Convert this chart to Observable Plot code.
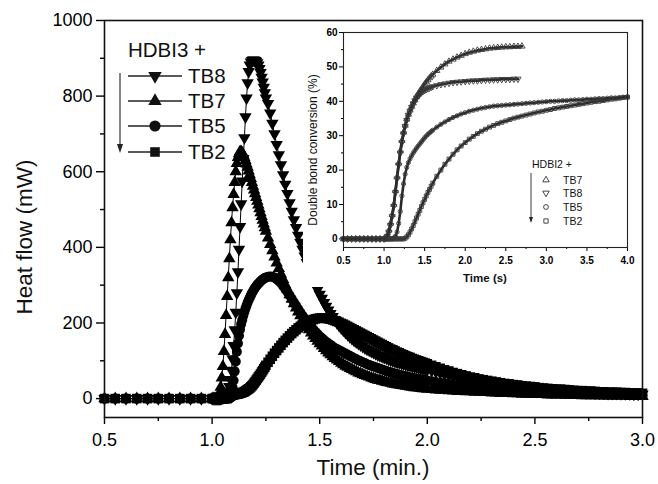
<!DOCTYPE html>
<html><head><meta charset="utf-8">
<script src="https://cdn.jsdelivr.net/npm/d3@7"></script>
<script src="https://cdn.jsdelivr.net/npm/@observablehq/plot@0.6"></script>
<style>
body{margin:0;background:#fff;}
#wrap{position:relative;width:658px;height:484px;background:#fff;}
#wrap svg{position:absolute;overflow:visible;}
</style></head><body><div id="wrap"></div>
<script>
const FONT = "'Liberation Sans', Arial, Helvetica, sans-serif";

// ===== Main chart: Heat flow (mW) vs Time (min.) =====
const MAIN_SERIES = ["TB8", "TB7", "TB5", "TB2"];
const T_BASE = [0.50,0.55,0.60,0.65,0.70,0.75,0.80,0.85,0.90,0.95];
const T_RISE = [1.000,1.005,1.010,1.015,1.020,1.025,1.030,1.035,1.040,1.045,
  1.050,1.055,1.060,1.065,1.070,1.075,1.080,1.085,1.090,1.095,
  1.100,1.105,1.110,1.115,1.120,1.125,1.130,1.135,1.140,1.145,
  1.150,1.155,1.160,1.165,1.170,1.175,1.180,1.185,1.190,1.195,
  1.200,1.205,1.210,1.215,1.220,1.225,1.230,1.235,1.240,1.245,1.250];
const T_MID = [1.26,1.27,1.28,1.29,1.30,1.31,1.32,1.33,1.34,1.35,
  1.36,1.37,1.38,1.39,1.40,1.41,1.42,1.43,1.44,1.45,
  1.46,1.47,1.48,1.49,1.50,1.51,1.52,1.53,1.54,1.55,
  1.56,1.57,1.58,1.59,1.60,1.61,1.62,1.63,1.64,1.65,
  1.66,1.67,1.68,1.69,1.70,1.71,1.72,1.73,1.74,1.75,
  1.76,1.77,1.78,1.79,1.80,1.81,1.82,1.83,1.84,1.85,
  1.86,1.87,1.88,1.89,1.90,1.91,1.92,1.93,1.94,1.95,
  1.96,1.97,1.98,1.99,2.00];
const T_TAIL = [2.02,2.04,2.06,2.08,2.10,2.12,2.14,2.16,2.18,2.20,
  2.22,2.24,2.26,2.28,2.30,2.32,2.34,2.36,2.38,2.40,
  2.42,2.44,2.46,2.48,2.50,2.52,2.54,2.56,2.58,2.60,
  2.62,2.64,2.66,2.68,2.70,2.72,2.74,2.76,2.78,2.80,
  2.82,2.84,2.86,2.88,2.90,2.92,2.94,2.96,2.98,3.00];
const HF_BASE = [0,0,0,0,0,0,0,0,0,0];

const TB8_RISE = [0,0,0,0,0,0,0,0,0,1, 2,3,5,8,13,20,32,50,75,105,
  140,182,228,280,335,395,455,515,575,635, 690,745,795,835,865,882,890,894,895,895,
  894,892,888,882,873,862,850,837,823,809, 795];
const TB8_MID = [780,755,728,700,672,645,618,592,567,542,
  518,495,473,452,432,413,395,377,360,344, 329,315,301,288,276,265,254,244,234,225,
  217,209,201,194,187,181,175,169,164,159, 154,150,146,142,138,134,131,128,125,122,
  119,116,114,111,109,107,104,102,100,98, 96,95,93,91,90,88,87,85,84,83, 81,80,79,78,77];
const TB8_TAIL = [74,71,68,65,62,59,57,54,52,50, 48,46,44,42,40,38,36,35,33,32,
  31,29,28,27,26,25,24,23,22,21, 21,20,19,18,18,17,17,16,16,15, 15,14,14,14,13,13,13,12,12,12];

const TB7_RISE = [0,0,0,0,0,2,6,15,30,55, 85,125,170,220,270,320,370,420,465,505,
  540,572,600,622,638,648,653,653,650,645, 638,630,621,612,602,592,582,572,562,552,
  542,532,522,512,502,492,482,472,462,452, 443];
const TB7_MID = [425,408,391,375,359,344,329,315,301,288,
  275,263,251,240,229,219,209,200,191,182, 174,166,159,152,145,139,133,127,121,116,
  111,106,102,98,94,90,86,83,80,77, 74,71,68,66,63,61,59,57,55,53,
  51,49,48,46,45,43,42,41,39,38, 37,36,35,34,33,32,31,30,29,29, 28,27,26,26,25];
const TB7_TAIL = [24,23,22,22,21,20,19,19,18,18, 17,17,16,16,15,15,14,14,14,13,
  13,12,12,12,11,11,11,10,10,10, 10,9,9,9,9,8,8,8,8,8, 7,7,7,7,7,7,6,6,6,6];

const TB5_RISE = [0,0,0,0,0,0,0,0,0,0, 0,0,0,0,2,4,8,13,20,30,
  48,72,98,124,146,166,183,197,208,219, 229,238,246,254,261,267,273,279,284,289,
  293,297,301,304,307,310,313,315,317,319, 320];
const TB5_MID = [322,323,322,320,316,311,305,298,290,282,
  273,264,255,246,237,228,220,212,204,197, 190,183,177,171,165,160,155,150,146,142,
  138,134,131,128,125,122,119,116,113,110, 107,104,101,99,96,94,91,89,87,85,
  83,81,79,77,75,73,71,70,68,66, 65,63,62,60,59,58,56,55,54,53, 52,51,50,49,48];
const TB5_TAIL = [46,44,42,40,38,36,35,33,32,31, 29,28,27,26,25,24,23,22,21,20,
  20,19,18,18,17,17,16,16,15,15, 14,14,13,13,13,12,12,12,11,11, 11,11,10,10,10,10,9,9,9,9];

const TB2_RISE = [0,0,0,0,0,0,0,0,0,0, 0,0,0,0,0,2,4,6,8,9,
  10,11,11,12,12,13,14,15,16,17, 18,20,22,24,26,28,31,34,37,41,
  45,49,53,57,61,65,70,74,79,83, 88];
const TB2_MID = [96,104,112,120,127,134,141,148,154,160,
  166,172,177,182,187,191,195,199,202,205, 207,209,211,212,213,213,213,212,211,210,
  208,206,204,202,199,197,194,191,188,185, 182,179,176,173,170,167,164,161,158,155,
  152,149,146,143,140,137,134,131,129,126, 123,121,118,116,113,111,109,106,104,102, 100,98,96,94,92];
const TB2_TAIL = [88,84,80,76,73,69,66,63,60,57, 55,52,50,48,46,44,42,40,39,37,
  36,34,33,32,31,29,28,27,26,25, 25,24,23,22,21,21,20,20,19,18, 18,17,17,17,16,16,15,15,15,14];

const X_TICKS = [0.5, 1.0, 1.5, 2.0, 2.5, 3.0];
const X_MINOR = [0.75, 1.25, 1.75, 2.25, 2.75];
const Y_TICKS = [0, 200, 400, 600, 800, 1000];
const Y_MINOR = [100, 300, 500, 700, 900];

// ===== Inset: Double bond conversion (%) vs Time (s) =====
const INSET_SERIES = ["TB7", "TB8", "TB5", "TB2"];
const IT_BASE = [0.50,0.55,0.60,0.65,0.70,0.75,0.80,0.85,0.90,0.95,1.00];
const IT_RISE = [1.02,1.04,1.06,1.08,1.10,1.12,1.14,1.16,1.18,1.20,
  1.22,1.24,1.26,1.28,1.30,1.32,1.34,1.36,1.38,1.40,
  1.42,1.44,1.46,1.48,1.50,1.52,1.54,1.56,1.58,1.60];
const IT_MID = [1.65,1.70,1.75,1.80,1.85,1.90,1.95,2.00,2.05,2.10,
  2.15,2.20,2.25,2.30,2.35,2.40,2.45,2.50,2.55,2.60,
  2.65,2.70,2.75,2.80,2.85,2.90,2.95,3.00,3.05,3.10,
  3.15,3.20,3.25,3.30,3.35,3.40,3.45,3.50,3.55,3.60,
  3.65,3.70,3.75,3.80,3.85,3.90,3.95,4.00];
const DBC_BASE = [0,0,0,0,0,0,0,0,0,0,0];

const I_TB7_RISE = [0.3,1,2.5,4.5,7,10,14,18,22,25.5, 28.6,31,33,34.8,36.2,37.4,38.5,39.5,40.4,41.3,
  42.1,42.9,43.6,44.3,45,45.6,46.2,46.8,47.3,47.8];
const I_TB7_MID = [48.9,49.9,50.8,51.6,52.2,52.8,53.3,53.8,54.2,54.5,
  54.8,55.0,55.2,55.4,55.5,55.6,55.7,55.8,55.8,55.9, 55.9,56.0,
  null,null,null,null,null,null,null,null,null,null,null,null,null,
  null,null,null,null,null,null,null,null,null,null,null,null,null];
const I_TB8_RISE = [0.2,0.8,2,4,6.5,9.5,13.5,17.5,21.5,25, 28,30.6,32.7,34.5,36,37.2,38.3,39.3,40.2,41,
  41.6,42.1,42.5,42.9,43.2,43.5,43.7,43.9,44.1,44.3];
const I_TB8_MID = [44.6,44.9,45.1,45.3,45.5,45.6,45.7,45.8,45.9,46.0,
  46.0,46.1,46.2,46.2,46.3,46.3,46.4,46.4,46.4,46.5, 46.5,
  null,null,null,null,null,null,null,null,null,null,null,null,null,null,
  null,null,null,null,null,null,null,null,null,null,null,null,null];
const I_TB5_RISE = [0,0,0,0,0,0.3,0.8,2,4.5,8, 12.5,16,18.8,20.8,22.2,23.3,24.2,25,25.7,26.4,
  27,27.6,28.2,28.8,29.4,29.9,30.4,30.8,31.2,31.6];
const I_TB5_MID = [32.5,33.3,34.0,34.7,35.3,35.8,36.3,36.7,37.1,37.4,
  37.7,38.0,38.2,38.4,38.6,38.7,38.8,38.9,39.0,39.1, 39.2,39.3,39.4,39.5,39.6,39.7,39.8,39.9,40.0,40.0,
  40.1,40.2,40.2,40.3,40.4,40.4,40.5,40.6,40.6,40.7, 40.8,40.8,40.9,41.0,41.0,41.1,41.2,41.3];
const I_TB2_RISE = [0,0,0,0,0,0,0,0,0,0,0,0, 0.2,0.6,1.2,2,2.9,3.9,5,6.1,
  7.2,8.3,9.4,10.5,11.5,12.5,13.5,14.4,15.3,16.2];
const I_TB2_MID = [18.2,20.0,21.7,23.2,24.6,25.9,27.0,28.0,29.0,29.8,
  30.6,31.3,31.9,32.5,33.0,33.5,33.9,34.3,34.7,35.1, 35.4,35.7,36.0,36.3,36.6,36.9,37.1,37.4,37.6,37.9,
  38.1,38.3,38.5,38.7,38.9,39.1,39.3,39.5,39.7,39.9, 40.0,40.2,40.4,40.6,40.7,40.9,41.1,41.2];

const IX_TICKS = [0.5, 1.0, 1.5, 2.0, 2.5, 3.0, 3.5, 4.0];
const IX_MINOR = [0.75, 1.25, 1.75, 2.25, 2.75, 3.25, 3.75];
const IY_TICKS = [0, 10, 20, 30, 40, 50, 60];
const IY_MINOR = [5, 15, 25, 35, 45, 55];

// ---------- helpers ----------
const triangleDown = {
  draw(context, size) {
    const y = -Math.sqrt(size / (Math.sqrt(3) * 3));
    context.moveTo(0, -y * 2);
    context.lineTo(-Math.sqrt(3) * y, y);
    context.lineTo(Math.sqrt(3) * y, y);
    context.closePath();
  }
};
function rows(name, times, values) {
  return times.map((t, i) => ({name, t, v: values[i]})).filter(d => d.v != null);
}
function d3sym(s) {
  return s === "triangle" ? d3.symbolTriangle : s === "circle" ? d3.symbolCircle : s === "square" ? d3.symbolSquare : s;
}
const mainTimes = T_BASE.concat(T_RISE, T_MID, T_TAIL);
const mainData = {
  TB8: rows("TB8", mainTimes, HF_BASE.concat(TB8_RISE, TB8_MID, TB8_TAIL)),
  TB7: rows("TB7", mainTimes, HF_BASE.concat(TB7_RISE, TB7_MID, TB7_TAIL)),
  TB5: rows("TB5", mainTimes, HF_BASE.concat(TB5_RISE, TB5_MID, TB5_TAIL)),
  TB2: rows("TB2", mainTimes, HF_BASE.concat(TB2_RISE, TB2_MID, TB2_TAIL))
};
const mainSym = {TB8: {s: triangleDown, r: 4.6}, TB7: {s: "triangle", r: 4.6}, TB5: {s: "circle", r: 5}, TB2: {s: "square", r: 5.4}};

const insetTimes = IT_BASE.concat(IT_RISE, IT_MID);
const insetData = {
  TB7: rows("TB7", insetTimes, DBC_BASE.concat(I_TB7_RISE, I_TB7_MID)),
  TB8: rows("TB8", insetTimes, DBC_BASE.concat(I_TB8_RISE, I_TB8_MID)),
  TB5: rows("TB5", insetTimes, DBC_BASE.concat(I_TB5_RISE, I_TB5_MID)),
  TB2: rows("TB2", insetTimes, DBC_BASE.concat(I_TB2_RISE, I_TB2_MID))
};
const insetSym = {TB7: {s: "triangle", r: 2.3}, TB8: {s: triangleDown, r: 2.3}, TB5: {s: "circle", r: 2.1}, TB2: {s: "square", r: 2.2}};

// ---------- main plot ----------
const seriesMarks = [];
for (const k of ["TB2", "TB5", "TB7", "TB8"]) {
  seriesMarks.push(Plot.line(mainData[k], {x: "t", y: "v", stroke: "black", strokeWidth: 1}));
  seriesMarks.push(Plot.dot(mainData[k], {x: "t", y: "v", symbol: mainSym[k].s, r: mainSym[k].r, fill: "black", stroke: "none"}));
}
const main = Plot.plot({
  width: 658, height: 484,
  marginLeft: 104, marginRight: 16, marginTop: 20, marginBottom: 67,
  x: {domain: [0.5, 3.0], label: null},
  y: {domain: [-50, 1000], label: null},
  style: {fontFamily: FONT, background: "white", color: "black"},
  marks: [
    Plot.axisY({ticks: Y_TICKS, tickSize: 8, tickPadding: 4, fontSize: 18, label: null, tickFormat: d => String(d), strokeWidth: 1.4}),
    Plot.axisY({ticks: Y_MINOR, tickSize: 4, tickFormat: () => "", label: null, strokeWidth: 1.4}),
    Plot.axisX({ticks: X_TICKS, tickSize: 7, tickPadding: 9, fontSize: 18, label: null, tickFormat: d => d.toFixed(1), strokeWidth: 1.4}),
    Plot.axisX({ticks: X_MINOR, tickSize: 4, tickFormat: () => "", label: null, strokeWidth: 1.4}),
    ...seriesMarks,
    Plot.frame({stroke: "#111", strokeWidth: 1.6})
  ]
});
main.style.left = "0px"; main.style.top = "0px";
const wrap = document.getElementById("wrap");
wrap.appendChild(main);

const ms = d3.select(main);
ms.append("text").attr("transform", "translate(32,237) rotate(-90)").attr("text-anchor", "middle")
  .attr("font-family", FONT).attr("font-size", 22.5).attr("fill", "#111").text("Heat flow (mW)");
ms.append("text").attr("x", 373).attr("y", 475).attr("text-anchor", "middle")
  .attr("font-family", FONT).attr("font-size", 22.5).attr("fill", "#111").text("Time (min.)");

// main legend
const lg = ms.append("g").attr("font-family", FONT).attr("fill", "#111").attr("text-anchor", "start");
lg.append("text").attr("x", 128).attr("y", 57).attr("font-size", 20.5).text("HDBI3 +");
const legRows = [76, 101, 126, 152];
MAIN_SERIES.forEach((k, i) => {
  const y = legRows[i];
  lg.append("line").attr("x1", 128).attr("x2", 182).attr("y1", y).attr("y2", y).attr("stroke", "#222").attr("stroke-width", 1.3);
  const rr = k === "TB5" ? 5.6 : k === "TB2" ? 5.4 : 5;
  lg.append("path").attr("transform", `translate(155,${y})`).attr("d", d3.symbol(d3sym(mainSym[k].s), Math.PI * rr * rr)()).attr("fill", "#111");
  lg.append("text").attr("x", 188).attr("y", y + 7).attr("font-size", 20.5).text(k);
});
lg.append("line").attr("x1", 120).attr("x2", 120).attr("y1", 73).attr("y2", 150).attr("stroke", "#222").attr("stroke-width", 1.1);
lg.append("path").attr("d", "M117,144 L123,144 L120,153 Z").attr("fill", "#222");

// ---------- inset ----------
const IL = 303, IT = 23;
const insetMarks = [];
for (const k of ["TB2", "TB5", "TB8", "TB7"]) {
  insetMarks.push(Plot.line(insetData[k], {x: "t", y: "v", stroke: "#2a2a2a", strokeWidth: 2.6}));
  insetMarks.push(Plot.dot(insetData[k], {x: "t", y: "v", symbol: insetSym[k].s, r: insetSym[k].r, fill: "none", stroke: "#3a3a3a", strokeWidth: 0.9}));
}
const inset = Plot.plot({
  width: 336, height: 264,
  marginLeft: 40, marginRight: 12, marginTop: 9, marginBottom: 40,
  x: {domain: [0.5, 4.0], label: null},
  y: {domain: [-2.5, 60], label: null},
  style: {fontFamily: FONT, background: "white", color: "black"},
  marks: [
    Plot.axisY({ticks: IY_TICKS, tickSize: 4, tickPadding: 2, fontSize: 10, fontWeight: "bold", label: null, tickFormat: d => String(d)}),
    Plot.axisY({ticks: IY_MINOR, tickSize: 2, tickFormat: () => "", label: null}),
    Plot.axisX({ticks: IX_TICKS, tickSize: 4, tickPadding: 5, fontSize: 10, fontWeight: "bold", label: null, tickFormat: d => d.toFixed(1)}),
    Plot.axisX({ticks: IX_MINOR, tickSize: 2, tickFormat: () => "", label: null}),
    ...insetMarks,
    Plot.frame({stroke: "#222", strokeWidth: 1.1})
  ]
});
inset.style.left = IL + "px"; inset.style.top = IT + "px";
wrap.appendChild(inset);
const is = d3.select(inset);
is.append("text").attr("transform", `translate(${317 - IL},${150 - IT}) rotate(-90)`).attr("text-anchor", "middle")
  .attr("font-family", FONT).attr("font-size", 12).attr("fill", "#111").text("Double bond conversion (%)");
is.append("text").attr("x", 485 - IL).attr("y", 282 - IT).attr("text-anchor", "middle")
  .attr("font-family", FONT).attr("font-size", 11.5).attr("font-weight", "bold").attr("fill", "#111").text("Time (s)");
const ig = is.append("g").attr("font-family", FONT).attr("fill", "#111").attr("text-anchor", "start");
ig.append("text").attr("x", 532 - IL).attr("y", 168 - IT).attr("font-size", 10.5).text("HDBI2 +");
const iRows = [180, 193, 207, 221];
INSET_SERIES.forEach((k, i) => {
  const y = iRows[i] - IT;
  ig.append("path").attr("transform", `translate(${546 - IL},${y})`).attr("d", d3.symbol(d3sym(insetSym[k].s), Math.PI * 2.4 * 2.4)())
    .attr("fill", "none").attr("stroke", "#333").attr("stroke-width", 0.9);
  ig.append("text").attr("x", 563 - IL).attr("y", y + 4).attr("font-size", 10.5).text(k);
});
ig.append("line").attr("x1", 531 - IL).attr("x2", 531 - IL).attr("y1", 173 - IT).attr("y2", 221 - IT).attr("stroke", "#222").attr("stroke-width", 0.9);
ig.append("path").attr("d", `M${529 - IL},${217 - IT} L${533 - IL},${217 - IT} L${531 - IL},${223 - IT} Z`).attr("fill", "#222");
</script>
</body></html>
